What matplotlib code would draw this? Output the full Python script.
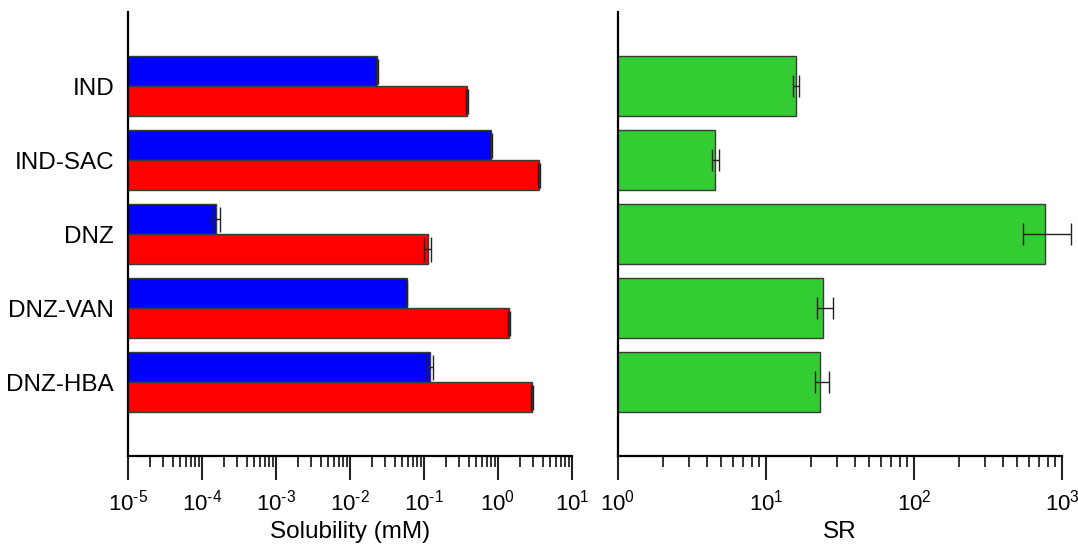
import matplotlib
matplotlib.use("Agg")
import matplotlib.pyplot as plt
from matplotlib.ticker import LogLocator, NullFormatter

plt.rcParams['font.family'] = ['Liberation Sans', 'DejaVu Sans']
plt.rcParams['mathtext.fontset'] = 'custom'
plt.rcParams['mathtext.rm'] = 'Liberation Sans'
plt.rcParams['mathtext.it'] = 'Liberation Sans:italic'

categories = ["IND", "IND-SAC", "DNZ", "DNZ-VAN", "DNZ-HBA"]

# Solubility (mM)
sol_blue = [0.0232, 0.80, 0.000155, 0.0583, 0.122]
sol_blue_err = [0.0008, 0.025, 0.00002, 0.0015, 0.011]
sol_red = [0.378, 3.61, 0.112, 1.41, 2.85]
sol_red_err = [0.012, 0.12, 0.011, 0.03, 0.08]

# Solubility ratio
sr = [15.96, 4.55, 767, 24.3, 23.2]
sr_err_lo = [0.8, 0.25, 219, 2.2, 1.8]
sr_err_hi = [0.8, 0.25, 384, 4.2, 3.3]

left_ticks = [1e-5, 1e-4, 1e-3, 1e-2, 1e-1, 1e0, 1e1]
left_ticklabels = [r"$\mathregular{10^{\text{-}5}}$", r"$\mathregular{10^{\text{-}4}}$",
                   r"$\mathregular{10^{\text{-}3}}$", r"$\mathregular{10^{\text{-}2}}$",
                   r"$\mathregular{10^{\text{-}1}}$", r"$\mathregular{10^{0}}$",
                   r"$\mathregular{10^{1}}$"]
right_ticks = [1e0, 1e1, 1e2, 1e3]
right_ticklabels = [r"$\mathregular{10^{0}}$", r"$\mathregular{10^{1}}$", r"$\mathregular{10^{2}}$",
                    r"$\mathregular{10^{3}}$"]

W, H = 1078, 544
fig = plt.figure(figsize=(W / 100, H / 100), dpi=100)
axL = fig.add_axes([128 / W, 1 - 456 / H, 444 / W, 444 / H])
axR = fig.add_axes([618 / W, 1 - 456 / H, 444 / W, 444 / H])

for ax in (axL, axR):
    ax.set_xscale("log")

axL.set_xlim(1e-5, 1e1)
axR.set_xlim(1, 1e3)

pos = list(range(len(categories)))
edge = "#3a3a3a"
ekw = dict(ecolor="#222222", elinewidth=1.0, capthick=1.0)

axL.barh([p - 0.2 for p in pos], sol_blue, height=0.4, color="#0000FF",
         edgecolor=edge, linewidth=1.0, xerr=sol_blue_err, capsize=9, error_kw=ekw)
axL.barh([p + 0.2 for p in pos], sol_red, height=0.4, color="#FF0000",
         edgecolor=edge, linewidth=1.0, xerr=sol_red_err, capsize=9, error_kw=ekw)

axR.barh(pos, sr, height=0.8, color="#33CC33", edgecolor=edge, linewidth=1.0,
         xerr=[sr_err_lo, sr_err_hi], capsize=8, error_kw=ekw)

for ax in (axL, axR):
    ax.set_ylim(5, -1)
    ax.spines["top"].set_visible(False)
    ax.spines["right"].set_visible(False)
    ax.spines["left"].set_linewidth(1.6)
    ax.spines["bottom"].set_linewidth(1.6)
    ax.tick_params(axis="x", which="major", direction="out", length=17, width=1.5,
                   labelsize=16, pad=7, color="#222222")
    ax.tick_params(axis="x", which="minor", direction="out", length=8, width=1.3, color="#222222")
    ax.xaxis.set_minor_locator(LogLocator(base=10, subs=range(2, 10), numticks=20))
    ax.xaxis.set_minor_formatter(NullFormatter())

axL.set_xlim(1e-5, 1e1)
axL.set_xticks(left_ticks)
axL.set_xticklabels(left_ticklabels)
axL.set_yticks(pos)
axL.set_yticklabels(categories, fontsize=17.5)
axL.tick_params(axis="y", length=0, pad=10)
axL.set_xlabel("Solubility (mM)", fontsize=17.5, labelpad=4)

axR.set_xlim(1, 1e3)
axR.set_xticks(right_ticks)
axR.set_xticklabels(right_ticklabels)
axR.set_yticks([])
axR.set_xlabel("SR", fontsize=17.5, labelpad=4)

# let error bars extend past the axis
for coll in axR.collections:
    coll.set_clip_on(False)
for ln in axR.lines:
    ln.set_clip_on(False)

fig.savefig("out.png", dpi=100)
